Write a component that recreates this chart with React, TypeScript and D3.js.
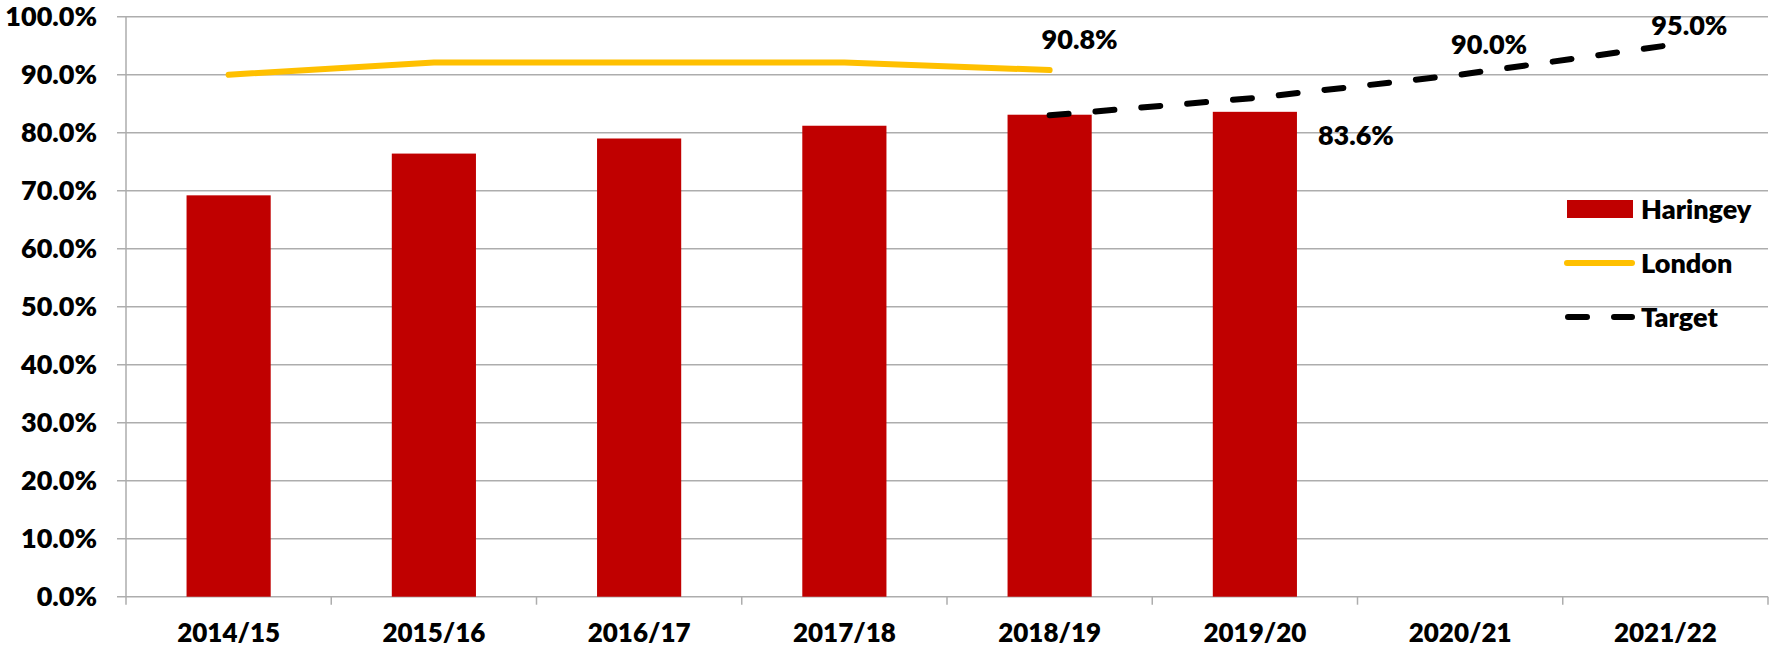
import React from "react";
import * as d3 from "d3";

const categories = ["2014/15", "2015/16", "2016/17", "2017/18", "2018/19", "2019/20", "2020/21", "2021/22"];
const haringey: (number | null)[] = [0.692, 0.764, 0.790, 0.812, 0.831, 0.836, null, null];
const london: (number | null)[] = [0.900, 0.921, 0.921, 0.921, 0.908, null, null, null];
const target: (number | null)[] = [null, null, null, null, 0.830, 0.860, 0.900, 0.950];
const yTicks = [0, 0.1, 0.2, 0.3, 0.4, 0.5, 0.6, 0.7, 0.8, 0.9, 1.0];
const legendItems = ["Haringey", "London", "Target"];

const W = 1774;
const H = 648;
const FONT = "Lato, 'Open Sans', sans-serif";
const RED = "#C00000";
const GOLD = "#FFC000";
const GRID = "#ADADAD";

export default function App() {
  const x = d3.scaleBand<string>().domain(categories).range([126, 1768]).padding(0);
  const y = d3.scaleLinear().domain([0, 1]).range([596.7, 16.7]);
  const bw = x.bandwidth();
  const barW = bw * 0.41;
  const cx = (c: string) => (x(c) as number) + bw / 2;
  const fmt = d3.format(".1%");

  const lineGen = d3
    .line<{ c: string; v: number | null }>()
    .defined((d) => d.v !== null)
    .x((d) => cx(d.c))
    .y((d) => y(d.v as number));

  const londonData = categories.map((c, i) => ({ c, v: london[i] }));
  const targetData = categories.map((c, i) => ({ c, v: target[i] }));

  const lastLondonIdx = 4;
  const lastBarIdx = 5;

  return (
    <svg
      width={W}
      height={H}
      style={{ position: "absolute", left: 0, top: 0, background: "#fff" }}
      fontFamily={FONT}
      fontWeight={800}
    >
      {yTicks.map((t) => (
        <g key={t}>
          <line x1={117} x2={1768} y1={y(t)} y2={y(t)} stroke={GRID} strokeWidth={1.5} />
          <text x={97} y={y(t)} dy="0.36em" textAnchor="end" fontSize={27} fill="#000">
            {fmt(t)}
          </text>
        </g>
      ))}
      <line x1={126} x2={126} y1={y(1)} y2={y(0) + 8} stroke={GRID} strokeWidth={1.5} />
      {categories.map((c) => (
        <line key={"t" + c} x1={(x(c) as number) + bw} x2={(x(c) as number) + bw} y1={y(0)} y2={y(0) + 8} stroke={GRID} strokeWidth={1.5} />
      ))}
      {categories.map((c, i) =>
        haringey[i] === null ? null : (
          <rect key={"b" + c} x={cx(c) - barW / 2} y={y(haringey[i] as number)} width={barW} height={y(0) - y(haringey[i] as number)} fill={RED} />
        )
      )}
      {categories.map((c) => (
        <text key={"l" + c} x={cx(c)} y={633} dy="0.36em" textAnchor="middle" fontSize={26} fill="#000">
          {c}
        </text>
      ))}
      <path d={lineGen(londonData) || ""} fill="none" stroke={GOLD} strokeWidth={6} strokeLinecap="round" strokeLinejoin="round" />
      <path d={lineGen(targetData) || ""} fill="none" stroke="#000" strokeWidth={6} strokeLinecap="round" strokeDasharray="19 27" />

      <text x={cx(categories[lastLondonIdx]) + 30} y={y(london[lastLondonIdx] as number) - 31} dy="0.36em" textAnchor="middle" fontSize={27}>
        {fmt(london[lastLondonIdx] as number)}
      </text>
      <text x={cx(categories[lastBarIdx]) + barW / 2 + 21} y={y(haringey[lastBarIdx] as number) + 23} dy="0.36em" textAnchor="start" fontSize={27}>
        {fmt(haringey[lastBarIdx] as number)}
      </text>
      <text x={cx(categories[6]) + 29} y={y(target[6] as number) - 30} dy="0.36em" textAnchor="middle" fontSize={27}>
        {fmt(target[6] as number)}
      </text>
      <text x={cx(categories[7]) + 24} y={y(target[7] as number) - 20} dy="0.36em" textAnchor="middle" fontSize={27}>
        {fmt(target[7] as number)}
      </text>

      <g>
        <rect x={1567} y={200} width={66} height={18} fill={RED} />
        <line x1={1567} x2={1632} y1={263} y2={263} stroke={GOLD} strokeWidth={6} strokeLinecap="round" />
        <line x1={1568} x2={1632} y1={317} y2={317} stroke="#000" strokeWidth={6} strokeLinecap="round" strokeDasharray="19 27" />
        {legendItems.map((l, i) => (
          <text key={l} x={1641} y={209 + i * 54} dy="0.36em" fontSize={27} fill="#000">
            {l}
          </text>
        ))}
      </g>
    </svg>
  );
}
